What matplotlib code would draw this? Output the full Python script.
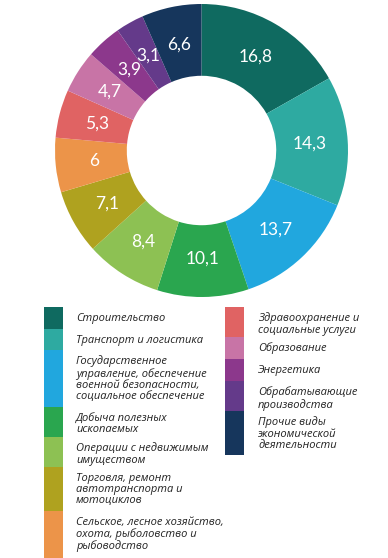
import matplotlib
matplotlib.use("Agg")
import matplotlib.pyplot as plt
from matplotlib.patches import Rectangle

categories = [
    "Строительство",
    "Транспорт и логистика",
    "Государственное\nуправление, обеспечение\nвоенной безопасности,\nсоциальное обеспечение",
    "Добыча полезных\nископаемых",
    "Операции с недвижимым\nимуществом",
    "Торговля, ремонт\nавтотранспорта и\nмотоциклов",
    "Сельское, лесное хозяйство,\nохота, рыболовство и\nрыбоводство",
    "Здравоохранение и\nсоциальные услуги",
    "Образование",
    "Энергетика",
    "Обрабатывающие\nпроизводства",
    "Прочие виды\nэкономической\nдеятельности",
]
values = [16.8, 14.3, 13.7, 10.1, 8.4, 7.1, 6, 5.3, 4.7, 3.9, 3.1, 6.6]
value_labels = ["16,8", "14,3", "13,7", "10,1", "8,4", "7,1", "6", "5,3", "4,7", "3,9", "3,1", "6,6"]
colors = ["#0f6a60", "#2eaaa1", "#21a7de", "#2aa64f", "#8dc153", "#afa21f",
          "#ec9449", "#e06363", "#c874a6", "#8c388c", "#643a8a", "#16365c"]

W, H = 388, 558
fig = plt.figure(figsize=(W / 100, H / 100), dpi=100)

# donut
cx, cy, R = 201.5, 150.5, 146.5
ax = fig.add_axes([(cx - R) / W, (H - cy - R) / H, 2 * R / W, 2 * R / H])
ax.pie(values, colors=colors, startangle=90, counterclock=False, radius=1,
       wedgeprops=dict(width=0.49, linewidth=0),
       labels=value_labels, labeldistance=0.74,
       textprops=dict(color="white", fontsize=12.5, family=["Lato", "DejaVu Sans"],
                      ha="center", va="center"))
ax.set_xlim(-1, 1)
ax.set_ylim(-1, 1)
ax.set_aspect("equal")
ax.axis("off")

# legend overlay in pixel coords
lax = fig.add_axes([0, 0, 1, 1])
lax.set_xlim(0, W)
lax.set_ylim(H, 0)
lax.axis("off")

heights = [22, 21, 57, 30, 30, 44, 47, 30, 22, 22, 30, 44]
columns = [(44, 76, 307, range(0, 7)), (225, 258, 307, range(7, 12))]
for sx, tx, top, idxs in columns:
    y = top
    for i in idxs:
        h = heights[i]
        lax.add_patch(Rectangle((sx, y), 19, h, facecolor=colors[i], edgecolor="none"))
        lax.text(tx, y + 5.5, categories[i], ha="left", va="top", fontsize=8.0,
                 style="italic", color="#222222", linespacing=1.05,
                 family=["Open Sans", "DejaVu Sans"])
        y += h

fig.savefig("out.png", dpi=100)
